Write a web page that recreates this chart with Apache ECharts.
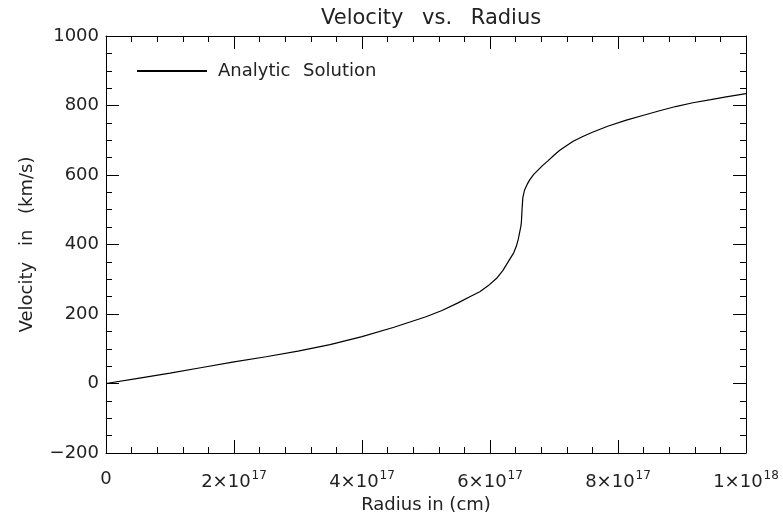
<!DOCTYPE html>
<html>
<head>
<meta charset="utf-8">
<script src="https://cdn.jsdelivr.net/npm/echarts@6/dist/echarts.min.js"></script>
<style>
html,body{margin:0;padding:0;background:#fff;}
#chart{width:783px;height:514px;}
</style>
</head>
<body>
<div id="chart"></div>
<script>
// Radius in units of 1e17 cm
var radiusE17 = [0, 0.5, 1.0, 1.5, 2.0, 2.5, 3.0, 3.5, 4.0, 4.5, 5.0, 5.25, 5.5, 5.7, 5.84, 5.97, 6.1, 6.2, 6.3, 6.37, 6.41, 6.44, 6.46, 6.48, 6.49, 6.5, 6.513, 6.54, 6.58, 6.62, 6.68, 6.75, 6.82, 6.9, 7.0, 7.09, 7.2, 7.3, 7.45, 7.6, 7.85, 8.13, 8.4, 8.65, 8.9, 9.17, 9.45, 9.69, 10.0];
// Velocity in km/s
var velocity = [0, 15, 30, 46, 62, 77, 93, 112, 135, 162, 192, 210, 232, 251, 264, 281, 302, 325, 355, 376, 394, 414, 432, 450, 463, 499, 535, 557, 573, 586, 601, 614, 627, 640, 657, 671, 685, 697, 711, 723, 741, 758, 772, 785, 797, 808, 817, 825, 834];
var xTicks = [0, 2e17, 4e17, 6e17, 8e17, 1e18];
var yTicks = [-200, 0, 200, 400, 600, 800, 1000];
var seriesName = 'Analytic Solution';
var titleText = '{t|Velocity }{v|vs.}{t| Radius}';
var xName = 'Radius in (cm)';
var yName = '{t|Velocity }{v|in}{t| (km/s)}';

var FONT = 'DejaVu Sans';
var TXT = '#222';

var data = radiusE17.map(function (r, i) { return [r * 1e17, velocity[i]]; });

function xFmt(v) {
  if (v === 0) return '{b|0}';
  var e = Math.floor(Math.log10(v) + 1e-9);
  var m = Math.round(v / Math.pow(10, e));
  return '{b|' + m + '×10}{s|' + e + '}';
}

var axisLineStyle = { color: '#000', width: 1 };
var chart = echarts.init(document.getElementById('chart'), null, { renderer: 'canvas' });
chart.setOption({
  animation: false,
  backgroundColor: '#fff',
  title: {
    text: titleText, left: 316, top: 3,
    textStyle: {
      fontFamily: FONT, fontSize: 21, fontWeight: 'normal', color: TXT,
      rich: {
        t: { fontFamily: FONT, fontSize: 21, color: TXT },
        v: { fontFamily: FONT, fontSize: 21, color: TXT, padding: [0, 12, 0, 12] }
      }
    }
  },
  legend: {
    data: [seriesName], left: 131, top: 57, itemWidth: 70, itemHeight: 14,
    itemStyle: { opacity: 0 },
    formatter: function (n) { var p = n.split(' '); return '{t|' + p[0] + ' }{u|' + p.slice(1).join(' ') + '}'; },
    textStyle: {
      fontFamily: FONT, fontSize: 18, color: TXT, padding: [0, 0, 0, 6],
      rich: {
        t: { fontFamily: FONT, fontSize: 18, color: TXT },
        u: { fontFamily: FONT, fontSize: 18, color: TXT, padding: [0, 0, 0, 7] }
      }
    }
  },
  grid: { left: 106, top: 36, width: 640, height: 417, containLabel: false, outerBoundsMode: 'none' },
  xAxis: [{
    type: 'value', min: xTicks[0], max: xTicks[xTicks.length - 1], interval: xTicks[1] - xTicks[0],
    position: 'bottom',
    name: xName, nameLocation: 'middle', nameGap: 40,
    nameTextStyle: { fontFamily: FONT, fontSize: 18, color: TXT },
    axisLine: { show: true, onZero: false, lineStyle: axisLineStyle },
    axisTick: { show: true, inside: true, length: 13, lineStyle: axisLineStyle },
    minorTick: { show: true, splitNumber: 5, length: 6, lineStyle: axisLineStyle },
    splitLine: { show: false },
    axisLabel: {
      margin: 17, formatter: xFmt,
      rich: {
        b: { fontFamily: FONT, fontSize: 18, color: TXT, verticalAlign: 'bottom' },
        s: { fontFamily: FONT, fontSize: 12, color: TXT, verticalAlign: 'bottom', padding: [0, 0, 9, 1] }
      }
    }
  }, {
    type: 'value', min: xTicks[0], max: xTicks[xTicks.length - 1], interval: xTicks[1] - xTicks[0],
    position: 'top',
    axisLine: { show: true, onZero: false, lineStyle: axisLineStyle },
    axisTick: { show: true, inside: true, length: 13, lineStyle: axisLineStyle },
    minorTick: { show: true, splitNumber: 5, length: 6, lineStyle: axisLineStyle },
    splitLine: { show: false },
    axisLabel: { show: false }
  }],
  yAxis: [{
    type: 'value', min: yTicks[0], max: yTicks[yTicks.length - 1], interval: yTicks[1] - yTicks[0],
    position: 'left',
    name: yName, nameLocation: 'middle', nameGap: 70,
    nameTextStyle: {
      fontFamily: FONT, fontSize: 18, color: TXT,
      rich: {
        t: { fontFamily: FONT, fontSize: 18, color: TXT },
        v: { fontFamily: FONT, fontSize: 18, color: TXT, padding: [0, 10, 0, 10] }
      }
    },
    axisLine: { show: true, onZero: false, lineStyle: axisLineStyle },
    axisTick: { show: true, inside: true, length: 13, lineStyle: axisLineStyle },
    minorTick: { show: true, splitNumber: 4, length: 6, lineStyle: axisLineStyle },
    splitLine: { show: false },
    axisLabel: {
      margin: 7, fontFamily: FONT, fontSize: 18, color: TXT,
      formatter: function (v) { return String(v).replace('-', '−'); }
    }
  }, {
    type: 'value', min: yTicks[0], max: yTicks[yTicks.length - 1], interval: yTicks[1] - yTicks[0],
    position: 'right',
    axisLine: { show: true, onZero: false, lineStyle: axisLineStyle },
    axisTick: { show: true, inside: true, length: 13, lineStyle: axisLineStyle },
    minorTick: { show: true, splitNumber: 4, length: 6, lineStyle: axisLineStyle },
    splitLine: { show: false },
    axisLabel: { show: false }
  }],
  series: [{
    name: seriesName, type: 'line', xAxisIndex: 0, yAxisIndex: 0,
    data: data, symbol: 'none', smooth: false,
    lineStyle: { color: '#000', width: 1.2 },
    itemStyle: { color: '#000' }
  }]
});
</script>
</body>
</html>
